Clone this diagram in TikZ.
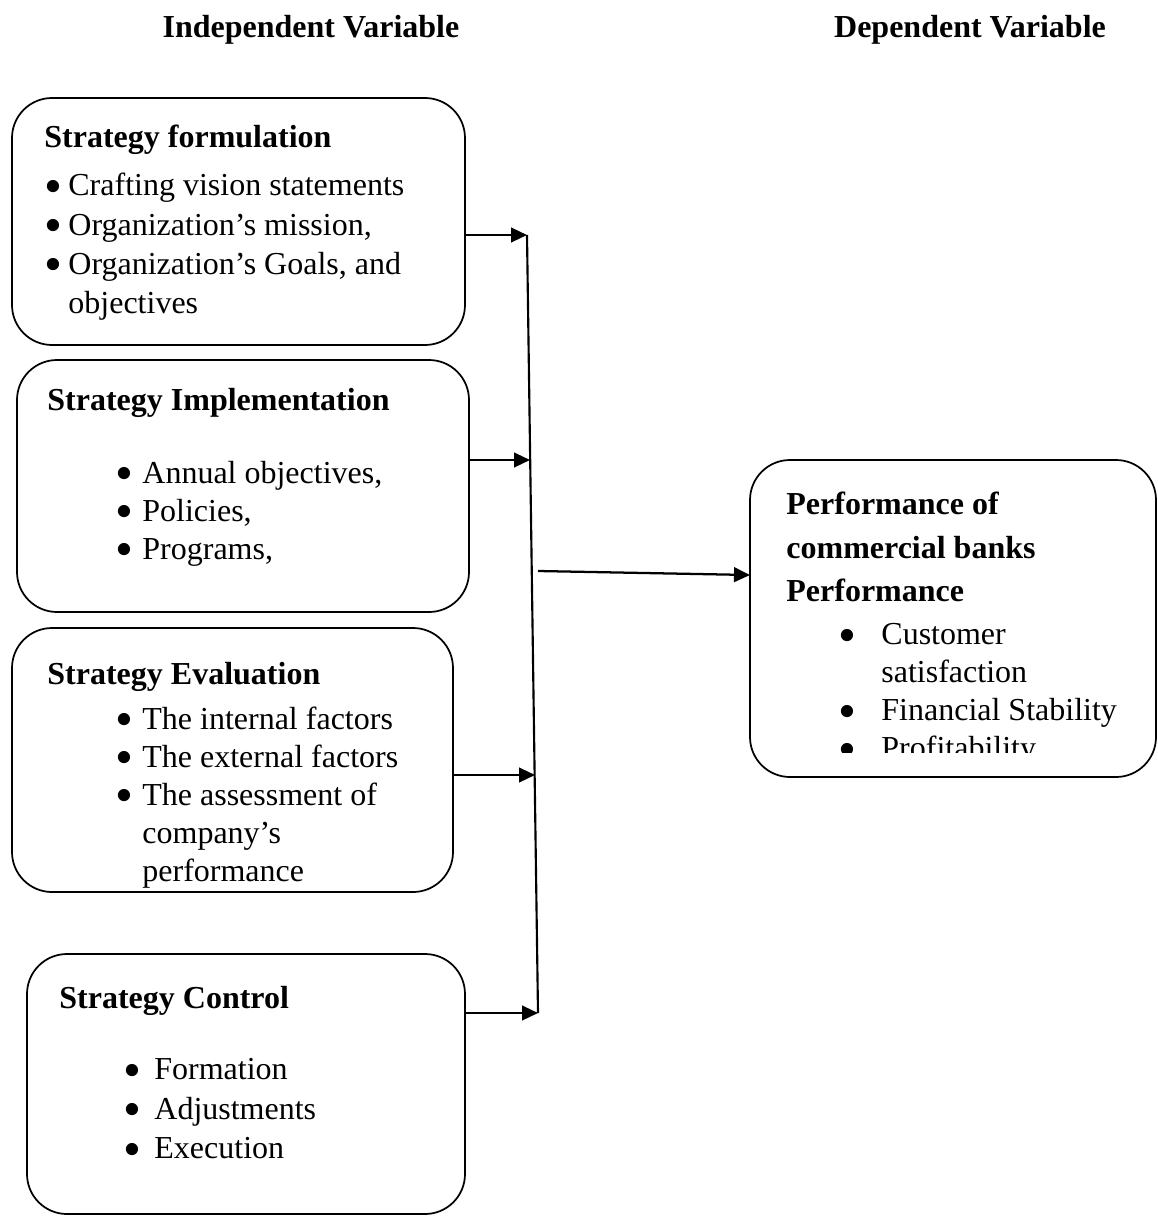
\documentclass[tikz,border=0pt]{standalone}
\usepackage{fontspec}
\setmainfont{Liberation Serif}
\usepackage{graphicx}
\usepackage{tikz}
\usetikzlibrary{arrows.meta, positioning}
\newcommand{\boxfont}{\fontsize{24}{28.5}\selectfont}
\newcommand{\bigdot}{\raisebox{-5.6pt}[0pt][0pt]{\scalebox{1.6}{\textbullet}}}
\newcommand{\bitem}[2]{\hspace*{#1}\makebox[#2][l]{\bigdot}}

\begin{document}
\begin{tikzpicture}[
        x=0.75pt, y=-0.75pt,
        every node/.style={inner sep=0pt, font=\boxfont},
        box/.style={draw, line width=1.3pt, rounded corners=30pt},
        txt/.style={align=left},
        head/.style={anchor=base, font=\boxfont\bfseries},
        arrow/.style={-{Triangle[length=12pt, width=11pt]}, line width=1.7pt}
    ]
        \useasboundingbox (0,0) rectangle (1157,1217);

        \node[head] (hind) at (311,37) {Independent Variable};
        \node[head] (hdep) at (970,37) {Dependent Variable};

        \node[box, minimum width=339.75pt, minimum height=185.25pt] (form) at (238.5,221.5) {};
        \node[box, minimum width=339pt, minimum height=189pt] (impl) at (243,486) {};
        \node[box, minimum width=330.75pt, minimum height=198pt] (eval) at (232.5,760) {};
        \node[box, minimum width=328.5pt, minimum height=195pt] (ctrl) at (246,1084) {};
        \node[box, minimum width=304.5pt, minimum height=237.75pt] (perf) at (953,618.5) {};

        \node[txt, below right=21pt and 24.75pt of form.north west] (formtxt) {\textbf{Strategy formulation}\\[7.5pt]
            \bitem{0pt}{18pt}Crafting vision statements\\[0.8pt]
            \bitem{0pt}{18pt}Organization’s mission,\\[0.8pt]
            \bitem{0pt}{18pt}Organization’s Goals, and\\[0.8pt]
            \hspace*{18pt}objectives};
        \node[txt, below right=21.75pt and 23.25pt of impl.north west] (impltxt) {\textbf{Strategy Implementation}\\[26pt]
            \bitem{51pt}{20.25pt}Annual objectives,\\
            \bitem{51pt}{20.25pt}Policies,\\
            \bitem{51pt}{20.25pt}Programs,};
        \node[txt, below right=26.25pt and 27pt of eval.north west] (evaltxt) {\textbf{Strategy Evaluation}\\[5pt]
            \bitem{51pt}{20.25pt}The internal factors\\
            \bitem{51pt}{20.25pt}The external factors\\
            \bitem{51pt}{20.25pt}The assessment of\\
            \hspace*{71.25pt}company’s\\
            \hspace*{71.25pt}performance};
        \node[txt, below right=24.75pt and 24.75pt of ctrl.north west] (ctrltxt) {\textbf{Strategy Control}\\[25pt]
            \bitem{48pt}{23.25pt}Formation\\[1pt]
            \bitem{48pt}{23.25pt}Adjustments\\[1pt]
            \bitem{48pt}{23.25pt}Execution};
        \begin{scope}
            \clip (740,450) rectangle (1157,752);
            \node[txt, below right=24.75pt and 27.75pt of perf.north west] (perftxt) {\textbf{Performance of}\\[4pt]
                \textbf{commercial banks}\\[4pt]
                \textbf{Performance}\\[4pt]
                \bitem{39pt}{32.25pt}Customer\\
                \hspace*{71.25pt}satisfaction\\
                \bitem{39pt}{32.25pt}Financial Stability\\
                \bitem{39pt}{32.25pt}Profitability};
        \end{scope}

        \coordinate (j1) at (527,235);
        \coordinate (j2) at (530,460);
        \coordinate (j3) at (535,775);
        \coordinate (j4) at (538,1013);
        \coordinate (jm) at (538,571);
        \coordinate (pin) at (750,575);

        \draw[arrow] (form.east |- j1) -- (j1);
        \draw[arrow] (impl.east |- j2) -- (j2);
        \draw[arrow] (eval.east |- j3) -- (j3);
        \draw[arrow] (ctrl.east |- j4) -- (j4);
        \draw[line width=1.6pt] (j1) -- (j4);
        \draw[arrow] (jm) -- (pin);
    \end{tikzpicture}
\end{document}
